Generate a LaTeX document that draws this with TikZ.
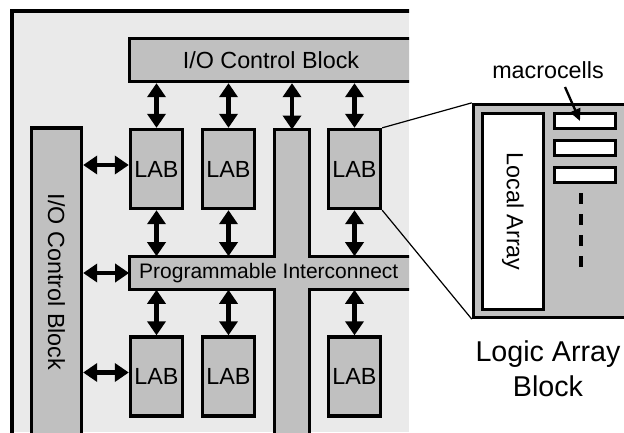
\documentclass[tikz,border=0pt]{standalone}
\usepackage{fontspec}
\setmainfont{Liberation Sans}
\usetikzlibrary{arrows.meta}
\definecolor{chipgray}{RGB}{234,234,234}
\definecolor{blockgray}{RGB}{192,192,192}

\begin{document}
\begin{tikzpicture}[
    x=0.75pt, y=-0.75pt,
    block/.style={draw=black, line width=2.5pt, fill=blockgray,
        inner sep=0pt, font=\fontsize{17.5pt}{20pt}\selectfont},
    lab/.style={block, minimum width=39pt, minimum height=59.25pt},
    cell/.style={draw=black, line width=2.5pt, fill=white,
        minimum width=45.75pt, minimum height=11.25pt, inner sep=0pt},
    link/.style={line width=3.25pt,
        {Triangle[width=13.5pt,length=10.5pt]}-{Triangle[width=13.5pt,length=10.5pt]}},
    pointer/.style={line width=1.75pt, -{Triangle[width=8pt,length=9pt]}},
    zoomline/.style={line width=0.9pt}
]
    \clip (0,0) rectangle (624,432);
    \begin{scope}
        \clip (0,0) rectangle (409,432);
        \fill[chipgray] (12,11) rectangle (409,432);
        \draw[line width=2.5pt] (12,440) -- (12,11) -- (420,11);
        \node[block, minimum width=212pt, minimum height=32.25pt] (iotop) at (271,60) {I/O Control Block};
        \node[block, rotate=-90, minimum width=231pt, minimum height=37.5pt] (ioleft) at (56.5,282) {I/O Control Block};
        \filldraw[fill=blockgray, line width=2.5pt] (129.5,256.5) -- (274.5,256.5) -- (274.5,129.5)
            -- (309.5,129.5) -- (309.5,256.5) -- (420,256.5) -- (420,289.5) -- (309.5,289.5)
            -- (309.5,440) -- (274.5,440) -- (274.5,289.5) -- (129.5,289.5) -- cycle;
        \coordinate (coltop) at (292,129.5);
        \node[inner sep=0pt, minimum width=209pt, minimum height=24.75pt,
            font=\fontsize{15.75pt}{18pt}\selectfont] (pi) at (268.75,273) {Programmable Interconnect};
        \node[lab] (lab11) at (156.5,169) {LAB};
        \node[lab] (lab12) at (228.5,169) {LAB};
        \node[lab] (lab13) at (354.5,169) {LAB};
        \node[lab] (lab21) at (156.5,376.5) {LAB};
        \node[lab] (lab22) at (228.5,376.5) {LAB};
        \node[lab] (lab23) at (354.5,376.5) {LAB};
        \foreach \n in {11,12,13}
            \draw[link] (lab\n.north |- iotop.south) -- (lab\n.north);
        \draw[link] (coltop |- iotop.south) -- (coltop);
        \foreach \n in {11,12,13}
            \draw[link] (lab\n.south) -- (lab\n.south |- pi.north);
        \foreach \n in {21,22,23}
            \draw[link] (lab\n.north |- pi.south) -- (lab\n.north);
        \draw[link] ([yshift=3pt]ioleft.north |- lab11.west) -- ([yshift=3pt]lab11.west);
        \draw[link] (ioleft.north |- pi.west) -- (pi.west);
        \draw[link] ([yshift=3pt]ioleft.north |- lab21.west) -- ([yshift=3pt]lab21.west);
    \end{scope}
    % logic array block detail
    \node[block, minimum width=124.9pt, minimum height=159.75pt] (labx) at (556.75,211) {};
    \node[cell, rotate=-90, minimum width=147pt, minimum height=45.75pt,
        font=\fontsize{17.5pt}{20pt}\selectfont] (local) at (513,211.5) {Local Array};
    \node[cell] (mc1) at (585,121) {};
    \node[cell] (mc2) at (585,148) {};
    \node[cell] (mc3) at (585,175) {};
    \coordinate (dtop) at (581,193);
    \coordinate (dbot) at (581,268);
    \draw[line width=3pt, dash pattern=on 8.25pt off 7.5pt] (dtop) -- (dbot);
    \draw[zoomline] (lab13.north east) -- (labx.north west);
    \draw[zoomline] (lab13.south east) -- (labx.south west);
    \node[font=\fontsize{17.5pt}{20pt}\selectfont] (mctext) at (548,70) {macrocells};
    \coordinate (mcfrom) at (565,87);
    \draw[pointer] (mcfrom) -- ([xshift=-3.75pt]mc1.center);
    \node[align=center, font=\fontsize{21.5pt}{26pt}\selectfont] (labname) at (548,369) {Logic Array\\Block};
\end{tikzpicture}
\end{document}
